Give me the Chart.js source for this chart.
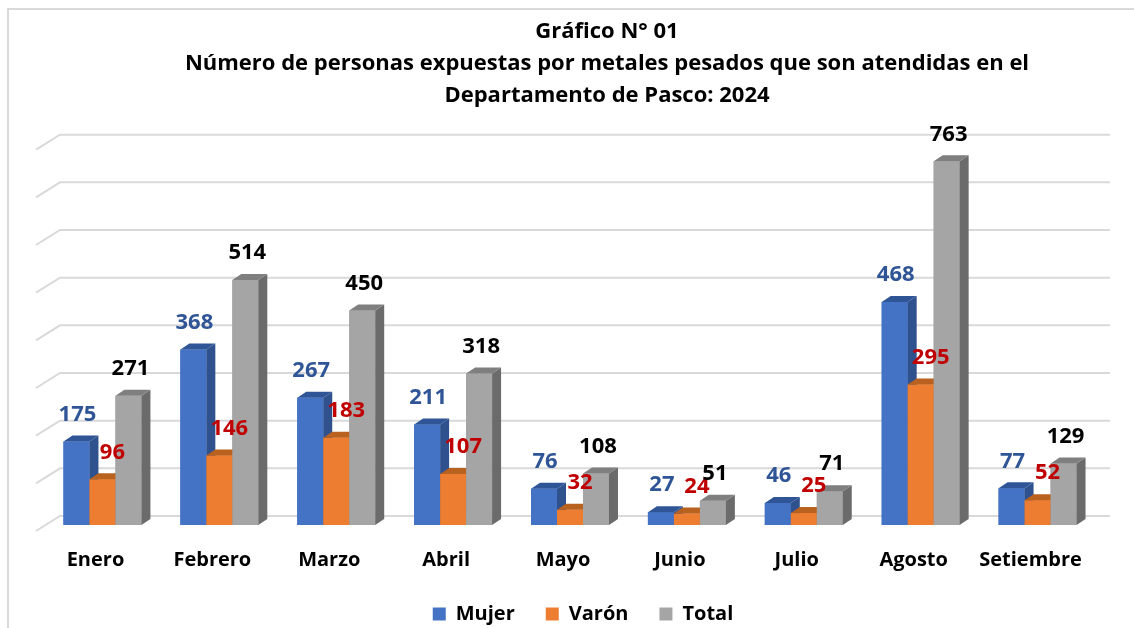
<!DOCTYPE html>
<html>
<head>
<meta charset="utf-8">
<script src="https://cdn.jsdelivr.net/npm/chart.js@4"></script>
<style>
  html, body { margin: 0; padding: 0; background: #fff; }
  #wrap { position: absolute; left: 0; top: 0; width: 1134px; height: 628px; overflow: hidden; }
  #frame { position: absolute; left: 7px; top: 8px; width: 1140px; height: 640px; border: 2px solid #d9d9d9; box-sizing: border-box; }
</style>
</head>
<body>
<div id="wrap">
  <div id="frame"></div>
  <canvas id="myChart"></canvas>
</div>
<script>
var meses = ["Enero", "Febrero", "Marzo", "Abril", "Mayo", "Junio", "Julio", "Agosto", "Setiembre"];
var mujer = [175, 368, 267, 211, 76, 27, 46, 468, 77];
var varon = [96, 146, 183, 107, 32, 24, 25, 295, 52];
var total = [271, 514, 450, 318, 108, 51, 71, 763, 129];
var gridValues = [0, 100, 200, 300, 400, 500, 600, 700, 800];

var FONT = "'Open Sans', sans-serif";

// colores: cara frontal, lateral, superior, etiqueta
var faces = [
  { front: "#4472C4", side: "#2F528F", top: "#2F5597", label: "#2F5597", dx: 1 },
  { front: "#ED7D31", side: "#AE5A21", top: "#B9611F", label: "#C00000", dx: 10 },
  { front: "#A5A5A5", side: "#6B6B6B", top: "#7F7F7F", label: "#000000", dx: 2 }
];
var DEPTH_X = 9, DEPTH_Y = 6;

// pared trasera con lineas de division
var backGrid = {
  id: "backGrid",
  beforeDatasetsDraw: function (chart) {
    var c = chart.ctx, y = chart.scales.y, a = chart.chartArea;
    c.save();
    c.strokeStyle = "#d9d9d9";
    c.lineWidth = 2;
    gridValues.forEach(function (v) {
      var py = y.getPixelForValue(v);
      c.beginPath();
      c.moveTo(a.left - 8, py + 6);
      c.lineTo(a.left + 16, py - 9);
      c.lineTo(a.right + 14, py - 9);
      c.stroke();
    });
    c.restore();
  }
};

// barras 3D
var bars3d = {
  id: "bars3d",
  afterDatasetsDraw: function (chart) {
    var c = chart.ctx;
    c.save();
    for (var i = 0; i < meses.length; i++) {
      for (var d = 0; d < 3; d++) {
        var el = chart.getDatasetMeta(d).data[i];
        var f = faces[d];
        var x0 = el.x - el.width / 2, x1 = el.x + el.width / 2;
        var yt = el.y, yb = el.base;
        c.fillStyle = f.front;
        c.fillRect(x0, yt, x1 - x0, yb - yt);
        c.fillStyle = f.side;
        c.beginPath();
        c.moveTo(x1, yt); c.lineTo(x1 + DEPTH_X, yt - DEPTH_Y);
        c.lineTo(x1 + DEPTH_X, yb - DEPTH_Y); c.lineTo(x1, yb);
        c.closePath(); c.fill();
        c.fillStyle = f.top;
        c.beginPath();
        c.moveTo(x0, yt); c.lineTo(x0 + DEPTH_X, yt - DEPTH_Y);
        c.lineTo(x1 + DEPTH_X, yt - DEPTH_Y); c.lineTo(x1, yt);
        c.closePath(); c.fill();
      }
      for (var d2 = 0; d2 < 3; d2++) {
        var el2 = chart.getDatasetMeta(d2).data[i];
        var v = chart.data.datasets[d2].data[i];
        c.fillStyle = faces[d2].label;
        c.font = "bold 22px " + FONT;
        c.textAlign = "center";
        c.textBaseline = "middle";
        c.fillText(String(v), el2.x + faces[d2].dx, el2.y - 27);
      }
    }
    c.restore();
  }
};

// titulo y leyenda algo corridos a la derecha, como en el original
var shiftBoxes = {
  id: "shiftBoxes",
  afterLayout: function (chart) {
    chart.titleBlock.left += 37; chart.titleBlock.right += 37;
    chart.legend.left += 13; chart.legend.right += 13;
  }
};

var ctx = document.getElementById("myChart").getContext("2d");
var myChart = new Chart(ctx, {
  type: "bar",
  data: {
    labels: meses,
    datasets: [
      { label: "Mujer", data: mujer, backgroundColor: faces[0].front },
      { label: "Varón", data: varon, backgroundColor: faces[1].front },
      { label: "Total", data: total, backgroundColor: faces[2].front }
    ]
  },
  options: {
    responsive: true,
    maintainAspectRatio: false,
    animation: false,
    layout: { padding: { left: 44, right: 38, top: 10, bottom: -6 } },
    datasets: { bar: { categoryPercentage: 0.667, barPercentage: 1.0 } },
    scales: {
      x: {
        grid: { display: false, drawTicks: false },
        border: { display: false },
        ticks: { color: "#000", font: { family: FONT, size: 20, weight: "bold", lineHeight: 1.0 }, padding: 25, labelOffset: -7 },
        afterFit: function (scale) { scale.height = 48; }
      },
      y: {
        display: false,
        min: 0,
        max: 800
      }
    },
    plugins: {
      title: {
        display: true,
        text: ["Gráfico N° 01", "Número de personas expuestas por metales pesados que son atendidas en el", "Departamento de Pasco: 2024"],
        color: "#000",
        font: { family: FONT, size: 22, weight: "bold", lineHeight: 1.45 },
        padding: { top: 6, bottom: 32 }
      },
      legend: {
        position: "bottom",
        labels: {
          color: "#000",
          boxWidth: 13,
          boxHeight: 13,
          padding: 31,
          font: { family: FONT, size: 20, weight: "bold" }
        }
      },
      tooltip: { enabled: false }
    }
  },
  plugins: [backGrid, bars3d, shiftBoxes]
});
</script>
</body>
</html>
